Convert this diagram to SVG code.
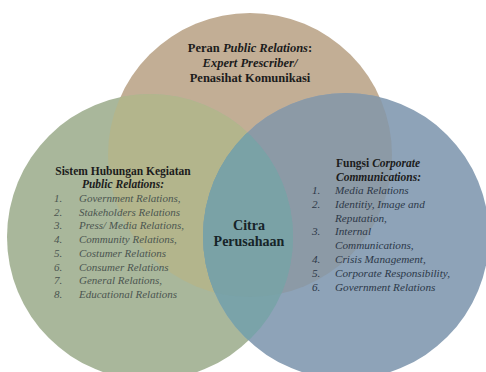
<svg xmlns="http://www.w3.org/2000/svg" width="486" height="372" viewBox="0 0 486 372">
<style>
.t{font-family:'Liberation Serif','Times New Roman',Times,serif}
.h{font-weight:bold;font-size:11.5px;fill:#1c1c1c}
.bi{font-weight:bold;font-style:italic}
.li{font-style:italic;font-size:11px}
.gl{fill:#4b5550}
.bl{fill:#2c3848;font-size:11.2px}
.c{font-weight:bold;font-size:14px;fill:#162428}
</style>
<defs>
<circle id="cT" cx="250" cy="155" r="142"/>
<circle id="cL" cx="150" cy="237" r="143"/>
<circle id="cR" cx="346" cy="236" r="143"/>
<clipPath id="kT"><use href="#cT"/></clipPath>
<clipPath id="kL"><use href="#cL"/></clipPath>
<clipPath id="kR"><use href="#cR"/></clipPath>
</defs>
<rect width="486" height="372" fill="#ffffff"/>
<g id="circle-top"><use href="#cT" fill="#c2ae95"/></g>
<g id="circle-left"><use href="#cL" fill="#a9b79b"/></g>
<g id="circle-right"><use href="#cR" fill="#8ea3b8"/></g>
<g id="overlaps">
<g clip-path="url(#kT)"><use href="#cL" fill="#b3b58c"/></g>
<g clip-path="url(#kT)"><use href="#cR" fill="#8c9aa6"/></g>
<g clip-path="url(#kL)"><use href="#cR" fill="#7aa3a9"/></g>
<g clip-path="url(#kL)"><g clip-path="url(#kT)"><use href="#cR" fill="#7aa2a6"/></g></g>
</g>
<g class="t" font-family="Liberation Serif, serif">
<g id="node-top">
<text x="250" y="52" text-anchor="middle" class="h" style="font-size:12.5px">Peran <tspan class="bi">Public Relations</tspan>:</text>
<text x="250" y="67" text-anchor="middle" class="h bi" style="font-size:12.5px">Expert Prescriber/</text>
<text x="250" y="82" text-anchor="middle" class="h" style="font-size:12.5px">Penasihat Komunikasi</text>
</g>
<g id="node-left">
<text x="123" y="175" text-anchor="middle" class="h">Sistem Hubungan Kegiatan</text>
<text x="123" y="188" text-anchor="middle" class="h bi">Public Relations:</text>
<g class="li gl">
<text x="54" y="202">1.</text><text x="79" y="202">Government Relations,</text>
<text x="54" y="215.7">2.</text><text x="79" y="215.7">Stakeholders Relations</text>
<text x="54" y="229.4">3.</text><text x="79" y="229.4">Press/ Media Relations,</text>
<text x="54" y="243.1">4.</text><text x="79" y="243.1">Community Relations,</text>
<text x="54" y="256.8">5.</text><text x="79" y="256.8">Costumer Relations</text>
<text x="54" y="270.5">6.</text><text x="79" y="270.5">Consumer Relations</text>
<text x="54" y="284.2">7.</text><text x="79" y="284.2">General Relations,</text>
<text x="54" y="297.9">8.</text><text x="79" y="297.9">Educational Relations</text>
</g>
</g>
<g id="node-right">
<text x="336" y="167" class="h">Fungsi <tspan class="bi">Corporate</tspan></text>
<text x="336" y="180.5" class="h bi">Communications:</text>
<g class="li bl">
<text x="312" y="194">1.</text><text x="335" y="194">Media Relations</text>
<text x="312" y="207.8">2.</text><text x="335" y="207.8">Identitiy, Image and</text>
<text x="335" y="221.6">Reputation,</text>
<text x="312" y="235.4">3.</text><text x="335" y="235.4">Internal</text>
<text x="335" y="249.2">Communications,</text>
<text x="312" y="263">4.</text><text x="335" y="263">Crisis Management,</text>
<text x="312" y="276.8">5.</text><text x="335" y="276.8">Corporate Responsibility,</text>
<text x="312" y="290.6">6.</text><text x="335" y="290.6">Government Relations</text>
</g>
</g>
<g id="node-center">
<text x="249" y="230" text-anchor="middle" class="c">Citra</text>
<text x="249" y="246" text-anchor="middle" class="c">Perusahaan</text>
</g>
</g>
<g id="connectors"></g>
</svg>
